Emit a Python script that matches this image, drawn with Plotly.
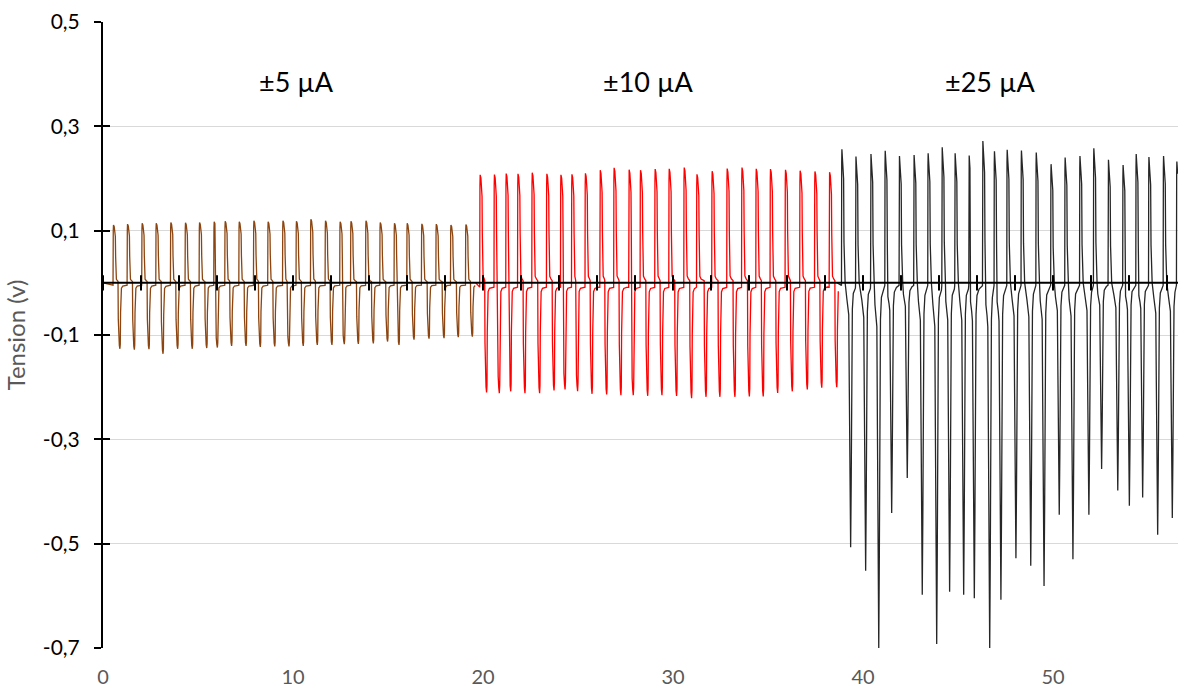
import plotly.graph_objects as go

# ---- values ----
# ±5 µA block (brown): positive pulse tops and negative pulse bottoms
brown_peak_x = [0.54, 1.28, 2.05, 2.79, 3.56, 4.33, 5.07, 5.84, 6.42, 7.16, 7.93, 8.68, 9.46,
                10.17, 10.93, 11.70, 12.47, 13.04, 13.83, 14.58, 15.33, 16.00, 16.77, 17.53, 18.30, 19.09]
brown_peak_v = [0.111, 0.1125, 0.114, 0.114, 0.1156, 0.115, 0.1156, 0.117, 0.118, 0.117, 0.119, 0.117, 0.119,
                0.118, 0.122, 0.119, 0.117, 0.118, 0.119, 0.1156, 0.114, 0.114, 0.113, 0.1125, 0.111, 0.112]
brown_trough_x = [0.89, 1.65, 2.42, 3.16, 3.93, 4.70, 5.46, 6.02, 6.77, 7.53, 8.28, 9.04, 9.79,
                  10.54, 11.28, 12.05, 12.70, 13.44, 14.23, 14.98, 15.58, 16.37, 17.16, 17.95, 18.70, 19.44]
brown_trough_v = [-0.1265, -0.128, -0.127, -0.136, -0.1265, -0.1265, -0.125, -0.124, -0.121, -0.121, -0.123, -0.122, -0.122,
                  -0.121, -0.119, -0.119, -0.1175, -0.117, -0.116, -0.1125, -0.119, -0.109, -0.107, -0.106, -0.104, -0.103]

# ±10 µA block (red)
red_peak_x = [19.84, 20.59, 21.21, 21.83, 22.58, 23.35, 24.09, 24.67, 25.38, 26.16, 26.89, 27.68, 28.28,
              29.05, 29.79, 30.58, 31.25, 32.05, 32.84, 33.62, 34.37, 35.12, 35.91, 36.68, 37.46, 38.23]
red_peak_v = [0.207, 0.2076, 0.2095, 0.209, 0.211, 0.209, 0.207, 0.208, 0.210, 0.216, 0.2204, 0.217, 0.216,
              0.218, 0.2185, 0.221, 0.208, 0.214, 0.219, 0.221, 0.2185, 0.218, 0.2166, 0.215, 0.2135, 0.212]
red_trough_x = [20.19, 20.86, 21.46, 22.21, 22.98, 23.74, 24.32, 24.98, 25.74, 26.51, 27.26, 27.91, 28.67,
                29.42, 30.19, 30.98, 31.74, 32.47, 33.26, 34.02, 34.75, 35.51, 36.28, 37.07, 37.83, 38.62]
red_trough_v = [-0.210, -0.2115, -0.208, -0.2115, -0.2115, -0.2064, -0.2045, -0.2077, -0.2128, -0.214, -0.2153, -0.2153, -0.2166,
                -0.2153, -0.217, -0.221, -0.2185, -0.2185, -0.2185, -0.218, -0.218, -0.211, -0.208, -0.2045, -0.201, -0.200]

# ±25 µA block (black)
black_peak_x = [38.88, 39.62, 40.41, 41.16, 41.91, 42.68, 43.42, 44.16, 44.84, 45.58, 46.30, 46.91, 47.58,
                48.33, 49.11, 49.89, 50.63, 51.41, 52.14, 52.91, 53.68, 54.37, 55.04, 55.81, 56.51]
black_peak_v = [0.256, 0.242, 0.247, 0.253, 0.243, 0.245, 0.2485, 0.260, 0.2485, 0.244, 0.272, 0.252, 0.255,
                0.2537, 0.25, 0.2275, 0.240, 0.243, 0.258, 0.236, 0.226, 0.247, 0.241, 0.243, 0.2325]
black_trough_x = [39.35, 40.14, 40.83, 41.51, 42.33, 43.12, 43.88, 44.56, 45.30, 45.86, 46.67, 47.26, 48.05,
                  48.83, 49.53, 50.33, 51.05, 51.89, 52.56, 53.41, 54.02, 54.72, 55.51, 56.28]
black_trough_v = [-0.507, -0.552, -0.700, -0.441, -0.374, -0.598, -0.6925, -0.592, -0.598, -0.6045, -0.702, -0.6076, -0.528,
                  -0.5425, -0.581, -0.4447, -0.5297, -0.4447, -0.357, -0.398, -0.4275, -0.4115, -0.483, -0.451]

block_labels = ["±5 µA", "±10 µA", "±25 µA"]
label_x = [10.2, 28.7, 46.7]

y_ticks = [0.5, 0.3, 0.1, -0.1, -0.3, -0.5, -0.7]
y_ticktext = ["0,5", "0,3", "0,1", "-0,1", "-0,3", "-0,5", "-0,7"]
x_ticks = [0, 10, 20, 30, 40, 50]

# pulse outlines: (offset from pulse, fraction of its height)
small_up = [(-0.012, -0.04), (0.0, 0.9), (0.012, 1.0), (0.05, 0.97), (0.09, 0.9), (0.11, 0.8),
            (0.125, 0.45), (0.14, 0.12), (0.165, 0.06), (0.23, 0.035)]
small_down = [(-0.1, 0.02), (-0.085, -0.55), (-0.06, -0.85), (-0.03, -0.95), (0.0, -1.0), (0.02, -0.93),
              (0.035, -0.45), (0.05, -0.13), (0.08, -0.08), (0.15, -0.05), (0.3, -0.04)]
big_up = [(-0.012, -0.02), (0.0, 0.9), (0.01, 1.0), (0.05, 0.9), (0.1, 0.78), (0.12, 0.3),
          (0.14, 0.06), (0.18, 0.0)]
big_down = [(-0.2, -0.06), (-0.14, -0.09), (-0.1, -0.12), (-0.07, -0.4), (-0.04, -0.8), (0.0, -1.0),
            (0.03, -0.75), (0.06, -0.15), (0.09, -0.1), (0.14, -0.04), (0.25, -0.02)]


def pulse_train(peak_x, peak_v, trough_x, trough_v, up, down, x_start, x_end):
    xs, ys = [x_start], [0.0]
    for i, (tp, vp) in enumerate(zip(peak_x, peak_v)):
        stop = trough_x[i] + down[0][0] if i < len(trough_x) else x_end
        for dx, f in up:
            x = tp + dx
            if xs[-1] < x < min(stop, x_end):
                xs.append(x)
                ys.append(f * vp)
        if i < len(trough_x):
            tn, vn = trough_x[i], abs(trough_v[i])
            stop = peak_x[i + 1] + up[0][0] if i + 1 < len(peak_x) else x_end
            for dx, f in down:
                x = tn + dx
                if xs[-1] < x < min(stop, x_end):
                    xs.append(x)
                    ys.append(f * vn)
    return xs, ys


x_max = 56.58
fig = go.Figure()

blocks = [
    (brown_peak_x, brown_peak_v, brown_trough_x, brown_trough_v, small_up, small_down, 0.0, 19.62, "#8c4510", 1.3),
    (red_peak_x, red_peak_v, red_trough_x, red_trough_v, small_up, small_down, 19.62, 38.75, "#ff0000", 1.3),
    (black_peak_x, black_peak_v, black_trough_x, black_trough_v, big_up, big_down, 38.65, x_max, "#262626", 1.3),
]
for px, pv, tx, tv, up, down, x0, x1, color, width in blocks:
    xs, ys = pulse_train(px, pv, tx, tv, up, down, x0, x1)
    fig.add_trace(go.Scatter(x=xs, y=ys, mode="lines", line=dict(color=color, width=width),
                             showlegend=False, hoverinfo="skip"))

# horizontal axis drawn through zero, with crossing minor ticks every 2
fig.add_trace(go.Scatter(x=[0, x_max], y=[0, 0], mode="lines", yaxis="y2",
                         line=dict(color="black", width=2), showlegend=False, hoverinfo="skip"))
fig.add_trace(go.Scatter(x=list(range(0, 57, 2)), y=[0] * 29, mode="markers", yaxis="y2",
                         marker=dict(symbol="line-ns", size=11, line=dict(color="black", width=2)),
                         showlegend=False, hoverinfo="skip"))

for text, x in zip(block_labels, label_x):
    fig.add_annotation(x=x, y=0.385, text=text, showarrow=False,
                       font=dict(size=27, color="black", family="Lato"))

fig.update_layout(
    width=1178,
    height=688,
    margin=dict(l=103, r=0, t=22, b=40),
    paper_bgcolor="white",
    plot_bgcolor="white",
    font=dict(family="Lato", size=20, color="black"),
    xaxis=dict(
        range=[0, x_max],
        tickvals=x_ticks,
        showgrid=False,
        zeroline=False,
        showline=False,
        ticks="",
        automargin=False,
        tickfont=dict(size=20, color="#595959"),
        ticklabelstandoff=15,
    ),
    yaxis=dict(
        range=[-0.7, 0.5],
        tickvals=y_ticks,
        ticktext=y_ticktext,
        showgrid=True,
        gridcolor="#d9d9d9",
        gridwidth=1,
        zeroline=False,
        showline=True,
        linecolor="black",
        linewidth=2,
        ticks="outside",
        ticklen=7,
        tickwidth=2,
        tickcolor="black",
        automargin=False,
        tickfont=dict(size=21, color="black"),
        ticklabelstandoff=10,
        title=dict(text="Tension (v)", font=dict(size=24, color="#595959"), standoff=10),
    ),
    yaxis2=dict(
        range=[-0.7, 0.5],
        overlaying="y",
        anchor="x",
        side="left",
        tickvals=y_ticks,
        showticklabels=False,
        showgrid=False,
        zeroline=False,
        showline=False,
        ticks="inside",
        ticklen=7,
        tickwidth=2,
        tickcolor="black",
    ),
)

fig.write_html("out.html", config={"displayModeBar": False},
               post_script="document.body.style.margin = '0';")
